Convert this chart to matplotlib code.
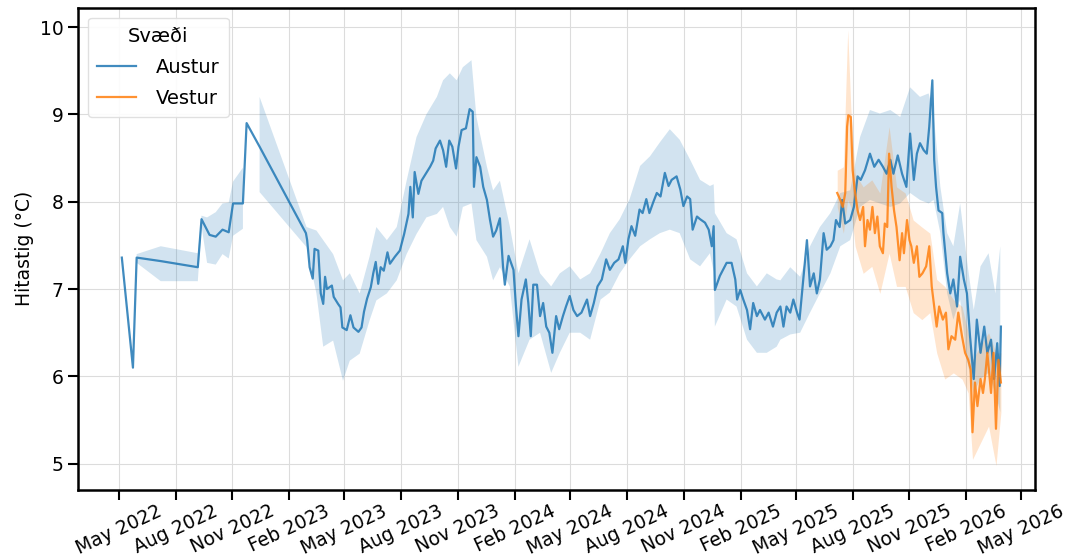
import matplotlib
matplotlib.use("Agg")
import matplotlib.pyplot as plt
import matplotlib.dates as mdates
import numpy as np
import pandas as pd

nan = np.nan

# Austur: daily mean across sensors (line)
austur_dates = [
    "2022-05-06", "2022-05-24", "2022-05-30", "2022-07-08", "2022-09-06", "2022-09-12",
    "2022-09-25", "2022-10-05", "2022-10-16", "2022-10-26", "2022-11-02", "2022-11-18",
    "2022-11-24", "2022-12-15",
    "2023-02-28", "2023-03-02", "2023-03-06", "2023-03-11", "2023-03-14", "2023-03-20",
    "2023-03-24", "2023-03-28", "2023-03-31", "2023-04-03", "2023-04-11", "2023-04-14",
    "2023-04-21", "2023-04-25", "2023-04-28", "2023-05-05", "2023-05-11", "2023-05-16",
    "2023-05-24", "2023-05-29", "2023-06-02", "2023-06-07", "2023-06-13", "2023-06-17",
    "2023-06-21", "2023-06-25", "2023-06-29", "2023-07-04", "2023-07-10", "2023-07-14",
    "2023-07-22", "2023-07-30", "2023-08-06", "2023-08-13", "2023-08-16", "2023-08-20",
    "2023-08-23", "2023-08-29", "2023-09-03", "2023-09-10", "2023-09-17", "2023-09-22",
    "2023-09-26", "2023-10-03", "2023-10-08", "2023-10-13", "2023-10-18", "2023-10-23",
    "2023-10-29", "2023-11-02", "2023-11-07", "2023-11-14", "2023-11-20", "2023-11-25",
    "2023-11-27", "2023-12-01", "2023-12-07", "2023-12-12", "2023-12-18", "2023-12-23",
    "2023-12-28", "2024-01-02", "2024-01-08", "2024-01-13", "2024-01-16", "2024-01-22",
    "2024-01-30", "2024-02-03", "2024-02-07", "2024-02-12", "2024-02-19", "2024-02-23",
    "2024-02-27", "2024-03-02", "2024-03-08", "2024-03-13", "2024-03-18", "2024-03-23",
    "2024-03-28", "2024-04-02", "2024-04-08", "2024-04-13", "2024-04-19", "2024-04-24",
    "2024-04-30", "2024-05-06", "2024-05-12", "2024-05-19", "2024-05-28", "2024-06-02",
    "2024-06-08", "2024-06-14", "2024-06-21", "2024-06-28", "2024-07-04", "2024-07-11",
    "2024-07-18", "2024-07-25", "2024-07-29", "2024-08-03", "2024-08-08", "2024-08-14",
    "2024-08-21", "2024-08-26", "2024-09-01", "2024-09-06", "2024-09-12", "2024-09-18",
    "2024-09-24", "2024-10-01", "2024-10-07", "2024-10-12", "2024-10-20", "2024-10-26",
    "2024-10-31", "2024-11-06", "2024-11-11", "2024-11-15", "2024-11-22", "2024-11-27",
    "2024-12-05", "2024-12-11", "2024-12-16", "2024-12-19", "2024-12-21", "2024-12-29",
    "2025-01-09", "2025-01-17", "2025-01-23", "2025-01-26", "2025-01-31", "2025-02-05",
    "2025-02-11", "2025-02-16", "2025-02-21", "2025-02-27", "2025-03-04", "2025-03-12",
    "2025-03-18", "2025-03-25", "2025-03-31", "2025-04-06", "2025-04-11", "2025-04-16",
    "2025-04-22", "2025-04-27", "2025-05-03", "2025-05-07", "2025-05-12", "2025-05-19",
    "2025-05-24", "2025-05-30", "2025-06-04", "2025-06-09", "2025-06-15", "2025-06-20",
    "2025-06-26", "2025-07-01", "2025-07-05", "2025-07-11", "2025-07-15", "2025-07-20",
    "2025-07-28", "2025-08-03", "2025-08-09", "2025-08-14", "2025-08-21", "2025-08-29",
    "2025-09-05", "2025-09-12", "2025-09-19", "2025-09-25", "2025-10-01", "2025-10-06",
    "2025-10-13", "2025-10-20", "2025-10-27", "2025-11-02", "2025-11-08", "2025-11-13",
    "2025-11-18", "2025-11-24", "2025-11-29", "2025-12-03", "2025-12-08", "2025-12-11",
    "2025-12-14", "2025-12-18", "2025-12-24", "2025-12-26", "2026-01-01", "2026-01-06",
    "2026-01-11", "2026-01-17", "2026-01-22", "2026-01-28", "2026-02-02", "2026-02-07",
    "2026-02-13", "2026-02-18", "2026-02-24", "2026-03-02", "2026-03-07", "2026-03-13",
    "2026-03-18", "2026-03-23", "2026-03-27", "2026-03-29",
]
austur_temp = [
    7.36, 6.10, 7.36, 7.32, 7.25, 7.80,
    7.62, 7.60, 7.68, 7.65, 7.98, 7.98,
    8.90, 8.63,
    7.64, 7.56, 7.25, 7.12, 7.46, 7.44,
    6.95, 6.83, 7.14, 7.00, 7.04, 6.91,
    6.83, 6.79, 6.56, 6.53, 6.70, 6.56,
    6.51, 6.56, 6.74, 6.89, 7.02, 7.18,
    7.31, 7.06, 7.25, 7.21, 7.42, 7.29,
    7.37, 7.44, 7.63, 7.86, 8.17, 7.82,
    8.34, 8.09, 8.24, 8.32, 8.40, 8.47,
    8.61, 8.70, 8.59, 8.40, 8.70, 8.63,
    8.38, 8.63, 8.82, 8.84, 9.06, 9.03,
    8.17, 8.51, 8.40, 8.17, 8.02, 7.79,
    7.60, 7.67, 7.81, 7.26, 7.05, 7.38,
    7.22, 6.80, 6.46, 6.88, 7.11, 6.84,
    6.46, 7.05, 7.05, 6.69, 6.84, 6.57,
    6.50, 6.27, 6.69, 6.54, 6.69, 6.80,
    6.92, 6.76, 6.69, 6.73, 6.88, 6.69,
    6.84, 7.03, 7.11, 7.34, 7.22, 7.30,
    7.34, 7.49, 7.30, 7.57, 7.72, 7.61,
    7.91, 7.87, 8.03, 7.87, 7.99, 8.10,
    8.06, 8.33, 8.18, 8.25, 8.29, 8.14,
    7.95, 8.06, 8.03, 7.68, 7.83, 7.80,
    7.76, 7.68, 7.49, 7.72, 6.99, 7.15,
    7.30, 7.30, 7.11, 6.88, 6.99, 6.88,
    6.76, 6.54, 6.84, 6.69, 6.76, 6.65,
    6.73, 6.57, 6.73, 6.80, 6.57, 6.80,
    6.73, 6.88, 6.73, 6.65, 7.03, 7.56,
    7.03, 7.18, 6.95, 7.11, 7.64, 7.45,
    7.49, 7.56, 7.79, 7.71, 8.02, 7.75,
    7.79, 7.94, 8.29, 8.25, 8.36, 8.55,
    8.40, 8.48, 8.40, 8.32, 8.48, 8.32,
    8.53, 8.32, 8.17, 8.78, 8.25, 8.55,
    8.67, 8.59, 8.55, 8.86, 9.39, 8.48,
    8.17, 7.90, 7.87, 7.64, 7.18, 6.95,
    7.11, 6.80, 7.37, 7.11, 6.95, 6.46,
    5.97, 6.65, 6.27, 6.57, 6.27, 6.42,
    5.97, 6.38, 5.89, 6.57,
]

# Austur: spread band
austur_band_dates = [
    "2022-05-30", "2022-07-08", "2022-09-06", "2022-09-12", "2022-09-21", "2022-10-05",
    "2022-10-16", "2022-10-26", "2022-11-02", "2022-11-18", "2022-11-24", "2022-12-15",
    "2023-03-01", "2023-03-17", "2023-03-28", "2023-04-13", "2023-04-29", "2023-05-10",
    "2023-05-26", "2023-06-11", "2023-06-22", "2023-07-09", "2023-07-25", "2023-08-10",
    "2023-08-26", "2023-09-11", "2023-09-28", "2023-10-08", "2023-10-19", "2023-10-30",
    "2023-11-09", "2023-11-23", "2023-12-01", "2023-12-18", "2023-12-28", "2024-01-08",
    "2024-01-24", "2024-02-07", "2024-02-25", "2024-03-13", "2024-03-31", "2024-04-14",
    "2024-04-30", "2024-05-17", "2024-06-02", "2024-06-19", "2024-07-04", "2024-07-20",
    "2024-08-05", "2024-08-22", "2024-09-07", "2024-09-23", "2024-10-09", "2024-10-25",
    "2024-11-11", "2024-11-27", "2024-12-13", "2024-12-19", "2024-12-21", "2025-01-09",
    "2025-01-25", "2025-02-11", "2025-02-27", "2025-03-15", "2025-03-31", "2025-04-06",
    "2025-04-22", "2025-05-08", "2025-05-24", "2025-06-09", "2025-06-26", "2025-07-12",
    "2025-07-28", "2025-08-13", "2025-08-29", "2025-09-14", "2025-10-01", "2025-10-17",
    "2025-11-02", "2025-11-18", "2025-12-02", "2025-12-10", "2025-12-21", "2026-01-01",
    "2026-01-11", "2026-01-22", "2026-02-02", "2026-02-13", "2026-02-24", "2026-03-09",
    "2026-03-20", "2026-03-28",
]
austur_lo = [
    7.30, 7.09, 7.09, 7.72, 7.30, 7.28,
    7.40, 7.35, 7.61, 7.69, nan, 8.11,
    7.48, 6.95, 6.34, 6.41, 5.95, 6.18,
    6.26, 6.64, 6.87, 6.95, 7.10, 7.40,
    7.63, 7.82, 7.86, 7.94, 7.71, 7.60,
    7.94, 7.98, 7.56, 7.37, 7.10, 7.25,
    7.03, 6.11, 6.42, 6.50, 6.04, 6.27,
    6.50, 6.50, 6.42, 6.88, 6.96, 7.18,
    7.34, 7.49, 7.57, 7.64, 7.68, 7.64,
    7.34, 7.26, 7.41, 7.20, 6.57, 6.88,
    6.80, 6.42, 6.27, 6.27, 6.34, 6.42,
    6.48, 6.50, 6.73, 6.95, 7.18, 7.49,
    7.56, 7.94, 8.02, 7.98, 7.94, 7.98,
    8.10, 8.02, 7.98, 8.02, 7.64, 6.95,
    6.65, 6.88, 6.19, 5.81, 5.97, 6.04,
    5.81, 5.59,
]
austur_hi = [
    7.40, 7.49, 7.41, 7.84, 7.82, 7.88,
    7.98, 7.99, 8.23, 8.39, nan, 9.20,
    7.71, 7.67, 7.56, 7.40, 7.10, 7.18,
    6.95, 7.37, 7.71, 7.56, 7.71, 8.24,
    8.74, 9.00, 9.20, 9.39, 9.47, 9.39,
    9.54, 9.62, 8.97, 8.40, 8.13, 8.24,
    7.72, 7.18, 7.57, 7.18, 7.03, 7.18,
    7.26, 7.11, 7.18, 7.41, 7.64, 7.80,
    8.03, 8.41, 8.52, 8.68, 8.83, 8.71,
    8.48, 8.25, 8.18, 8.20, 7.87, 7.64,
    7.57, 7.18, 7.03, 7.18, 7.11, 7.10,
    7.25, 7.14, 7.49, 7.71, 7.87, 8.10,
    8.13, 8.74, 9.05, 9.01, 9.05, 8.97,
    9.31, 9.20, 9.24, 9.01, 8.17, 7.64,
    7.49, 7.98, 7.33, 6.76, 7.26, 7.41,
    6.95, 7.49,
]

# Vestur: daily mean (line)
vestur_dates = [
    "2025-07-07", "2025-07-12", "2025-07-16", "2025-07-20", "2025-07-23", "2025-07-25",
    "2025-07-29", "2025-08-01", "2025-08-05", "2025-08-09", "2025-08-13", "2025-08-18",
    "2025-08-21", "2025-08-25", "2025-08-29", "2025-09-02", "2025-09-06", "2025-09-10",
    "2025-09-14", "2025-09-19", "2025-09-22", "2025-09-26", "2025-09-29", "2025-10-03",
    "2025-10-07", "2025-10-11", "2025-10-16", "2025-10-20", "2025-10-23", "2025-10-28",
    "2025-11-01", "2025-11-04", "2025-11-08", "2025-11-13", "2025-11-17", "2025-11-22",
    "2025-11-28", "2025-12-03", "2025-12-07", "2025-12-11", "2025-12-15", "2025-12-19",
    "2025-12-25", "2025-12-30", "2026-01-03", "2026-01-08", "2026-01-14", "2026-01-19",
    "2026-01-25", "2026-01-30", "2026-02-04", "2026-02-08", "2026-02-11", "2026-02-15",
    "2026-02-19", "2026-02-24", "2026-02-28", "2026-03-03", "2026-03-07", "2026-03-13",
    "2026-03-17", "2026-03-21", "2026-03-25", "2026-03-29",
]
vestur_temp = [
    8.10, 8.02, 7.94, 8.10, 8.86, 8.99,
    8.97, 8.36, 8.10, 7.90, 7.79, 7.94,
    7.49, 7.79, 7.68, 7.94, 7.64, 7.83,
    7.49, 7.41, 7.75, 7.71, 8.55, 8.17,
    7.90, 7.71, 7.33, 7.64, 7.41, 7.79,
    7.56, 7.49, 7.30, 7.49, 7.14, 7.18,
    7.26, 7.49, 7.03, 6.80, 6.57, 6.80,
    6.65, 6.73, 6.31, 6.46, 6.42, 6.73,
    6.46, 6.27, 6.19, 6.08, 5.36, 5.93,
    5.66, 5.97, 5.81, 5.97, 6.27, 5.81,
    6.27, 5.40, 6.19, 5.93,
]

# Vestur: spread band
vestur_band_dates = [
    "2025-07-07", "2025-07-17", "2025-07-24", "2025-07-29", "2025-08-05", "2025-08-18",
    "2025-09-01", "2025-09-14", "2025-09-29", "2025-10-11", "2025-10-25", "2025-11-07",
    "2025-11-21", "2025-12-04", "2025-12-15", "2025-12-28", "2026-01-11", "2026-01-25",
    "2026-02-04", "2026-02-11", "2026-02-24", "2026-03-09", "2026-03-21", "2026-03-29",
]
vestur_lo = [
    7.94, 7.64, 8.02, 7.94, 7.49, 7.18,
    7.26, 6.95, 7.41, 7.03, 7.03, 6.73,
    6.65, 6.73, 6.27, 5.97, 6.04, 5.97,
    5.81, 5.05, 5.24, 5.43, 4.98, 5.59,
]
vestur_hi = [
    8.36, 8.40, 9.97, 9.08, 8.32, 8.17,
    8.25, 8.10, 8.86, 8.17, 8.10, 7.79,
    7.71, 7.64, 7.11, 7.03, 6.88, 6.80,
    6.50, 6.19, 6.35, 6.50, 6.27, 6.27,
]

title = "Hitastig í jarðsjó eftir svæðum"
blue = "#1f77b4"
orange = "#ff7f0e"

fig = plt.figure(figsize=(10.68, 5.58), dpi=100)
ax = fig.add_axes([0.073, 0.122, 0.896, 0.864])

ax.fill_between(pd.to_datetime(austur_band_dates), austur_lo, austur_hi,
                color=blue, alpha=0.2, lw=0)
ax.plot(pd.to_datetime(austur_dates), austur_temp, color=blue, alpha=0.85,
        lw=1.6, label="Austur")
ax.fill_between(pd.to_datetime(vestur_band_dates), vestur_lo, vestur_hi,
                color=orange, alpha=0.2, lw=0)
ax.plot(pd.to_datetime(vestur_dates), vestur_temp, color=orange, alpha=0.85,
        lw=1.6, label="Vestur")

ax.set_xlim(pd.Timestamp("2022-02-24"), pd.Timestamp("2026-05-23"))
ax.set_ylim(4.70, 10.22)
ax.xaxis.set_major_locator(mdates.MonthLocator(bymonth=[2, 5, 8, 11]))
ax.xaxis.set_major_formatter(mdates.DateFormatter("%b %Y"))

ax.grid(color="#dcdcdc", lw=0.8)
ax.set_axisbelow(True)
for s in ax.spines.values():
    s.set_linewidth(1.8)
    s.set_color("black")
ax.tick_params(direction="out", length=7, width=1.5, labelsize=13.5)
ax.tick_params(axis="x", pad=1.5)
plt.setp(ax.get_xticklabels(), rotation=25, ha="center")

ax.set_ylabel("Hitastig (°C)", fontsize=13.5)
leg = ax.legend(title="Svæði", loc="upper left", fontsize=14,
                title_fontsize=14, framealpha=0.9, edgecolor="#dddddd",
                handletextpad=1.0, labelspacing=0.6, borderpad=0.5)

# title sits above the top edge, only its lowest strokes show (as in the source image)
fig.suptitle(title, fontsize=26, x=0.5, y=1.014, va="baseline")

fig.savefig("out.png", dpi=100)
